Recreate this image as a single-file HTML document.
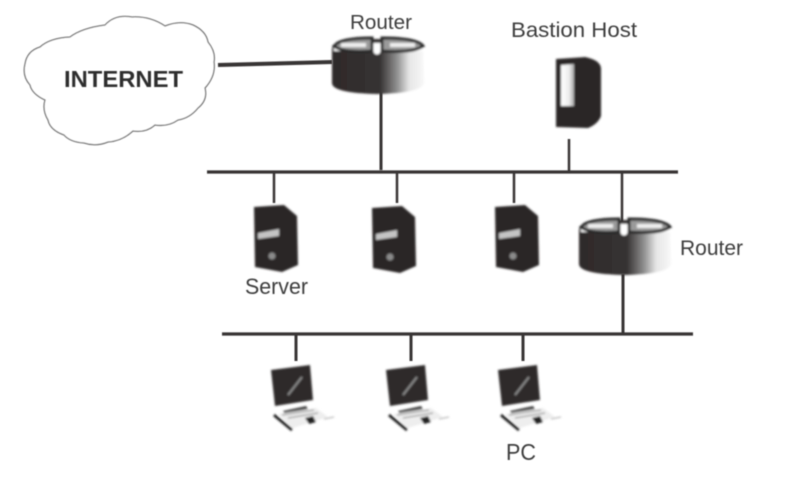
<!DOCTYPE html>
<html><head><meta charset="utf-8"><style>
html,body{margin:0;padding:0;background:#fff}
svg{display:block}
text{font-family:"Liberation Sans",sans-serif;fill:#3c3c3c}
</style></head><body>
<svg width="794" height="478" viewBox="0 0 794 478" xmlns="http://www.w3.org/2000/svg">
<defs>
<linearGradient id="r" x1="0" x2="1" y1="0" y2="0">
<stop offset="0" stop-color="#2e2a2a"/><stop offset=".52" stop-color="#363232"/><stop offset=".7" stop-color="#8c8c8c"/><stop offset=".84" stop-color="#e6e6e6"/><stop offset="1" stop-color="#f8f8f8"/>
</linearGradient>
<linearGradient id="bar" x1="0" x2="1" y1="0" y2="0">
<stop offset="0" stop-color="#fff"/><stop offset=".6" stop-color="#eee"/><stop offset="1" stop-color="#aaa"/>
</linearGradient>
<filter id="b" x="-10%" y="-10%" width="120%" height="120%"><feGaussianBlur stdDeviation="1"/></filter>
<filter id="s" x="-5%" y="-5%" width="110%" height="110%"><feGaussianBlur stdDeviation=".55"/></filter>
<g id="server">
<path d="M0 2 L30 0 L43 11 L44 60 L28 67 L1 62 Z" fill="#292525"/>
<path d="M4 28 L25 24 L25 31 L4 34 Z" fill="#c4c4c4"/>
<circle cx="18" cy="51" r="3.5" fill="#8a8a8a"/>
</g>
<g id="router">
<path d="M0 12 Q0 3 45 2 Q91 3 91 12 L92 46 Q90 56 45 57 Q0 56 0 46 Z" fill="url(#r)"/>
<path d="M2 6 L90 6 L91 14 L2 14 Z" fill="#fff"/>
<path d="M2 9 Q8 1 40 1 L40 14 Q10 16 2 9 Z M50 1 Q85 1 91 9 Q82 16 50 14 Z" fill="#9a9a9a" stroke="#2a2a2a" stroke-width="3"/>
<rect x="9" y="6" width="25" height="4" fill="#eee"/><rect x="58" y="6" width="25" height="4" fill="#eee"/>
<circle cx="45" cy="14" r="3.5" fill="#fff"/>
</g>
<g id="pc">
<path d="M3 5 L42 0 L45 35 L7 41 Z" fill="#2f2b2b"/>
<path d="M20 30 L34 12" stroke="#8a8a8a" stroke-width="2" fill="none"/>
<path d="M15 46 L38 41 L40 44 L17 49 Z" fill="#444"/>
<path d="M6 50 L24 65" stroke="#222" stroke-width="3" fill="none"/>
<path d="M10 49 L48 43 L60 52 L25 63 Z" fill="#eee"/>
<path d="M14 50 L46 45 M20 53 L50 48" stroke="#999" stroke-width="1.2"/>
<path d="M37 53 L45 51 L48 57 L41 59 Z" fill="#222"/>
<path d="M56 54 L66 52" stroke="#bbb" stroke-width="1.2"/>
</g>
</defs>
<g filter="url(#s)">
<path d="M25 64 Q27 51 40 47 Q50 38 70 37 Q82 28 105 25 Q115 14 132 17 Q150 16 165 26 Q180 20 193 25 Q206 31 208 42 Q216 52 214 62 Q216 76 205 88 Q208 100 198 108 Q190 118 178 120 Q168 127 155 125 Q146 133 133 131 Q122 141 108 142 Q96 147 84 143 Q70 142 64 135 Q50 130 48 120 Q42 110 45 100 Q32 94 30 85 Q22 76 25 64 Z" fill="#fff" stroke="#777" stroke-width="1.3"/>
<g stroke="#383434" fill="none">
<path d="M218 65 L332 62" stroke-width="4"/>
<path d="M381 90 L381 170" stroke-width="3"/>
<path d="M207 172 L678 172" stroke-width="3.2"/>
<path d="M569 139 L569 172" stroke-width="2.5"/>
<path d="M274 172 L274 203" stroke-width="2.5"/>
<path d="M397 172 L397 203" stroke-width="2.5"/>
<path d="M514 172 L514 203" stroke-width="2.5"/>
<path d="M622 172 L622 222" stroke-width="2.5"/>
<path d="M623 274 L623 333" stroke-width="3"/>
<path d="M222 334 L693 334" stroke-width="3.2"/>
<path d="M296 334 L296 361" stroke-width="3"/>
<path d="M411 334 L411 361" stroke-width="3"/>
<path d="M523 334 L523 361" stroke-width="3"/>
</g>
</g>
<g filter="url(#b)">
<use href="#router" x="332" y="37"/>
<use href="#router" x="579" y="218"/>
<use href="#server" x="254" y="205"/>
<use href="#server" x="372" y="206"/>
<use href="#server" x="495" y="205"/>
<path d="M556 59 L585 57 Q600 60 601 68 L601 116 Q598 124 588 128 L556 127 Z" fill="#2a2626"/>
<path d="M561 65 L574 64 L574 106 L561 106 Z" fill="url(#bar)"/>
<use href="#pc" x="268" y="365"/>
<use href="#pc" x="383" y="365"/>
<use href="#pc" x="495" y="365"/>
</g>
<g filter="url(#s)">
<text x="64" y="87" font-size="23" font-weight="700" textLength="119" lengthAdjust="spacingAndGlyphs" style="fill:#2e2e2e">INTERNET</text>
<text x="350" y="29" font-size="20" textLength="62" lengthAdjust="spacingAndGlyphs">Router</text>
<text x="511" y="37" font-size="21" textLength="126" lengthAdjust="spacingAndGlyphs">Bastion Host</text>
<text x="680" y="255" font-size="21" textLength="63" lengthAdjust="spacingAndGlyphs">Router</text>
<text x="245" y="294" font-size="22" textLength="63" lengthAdjust="spacingAndGlyphs">Server</text>
<text x="506" y="460" font-size="23" textLength="30" lengthAdjust="spacingAndGlyphs">PC</text>
</g>
</svg>
</body></html>
